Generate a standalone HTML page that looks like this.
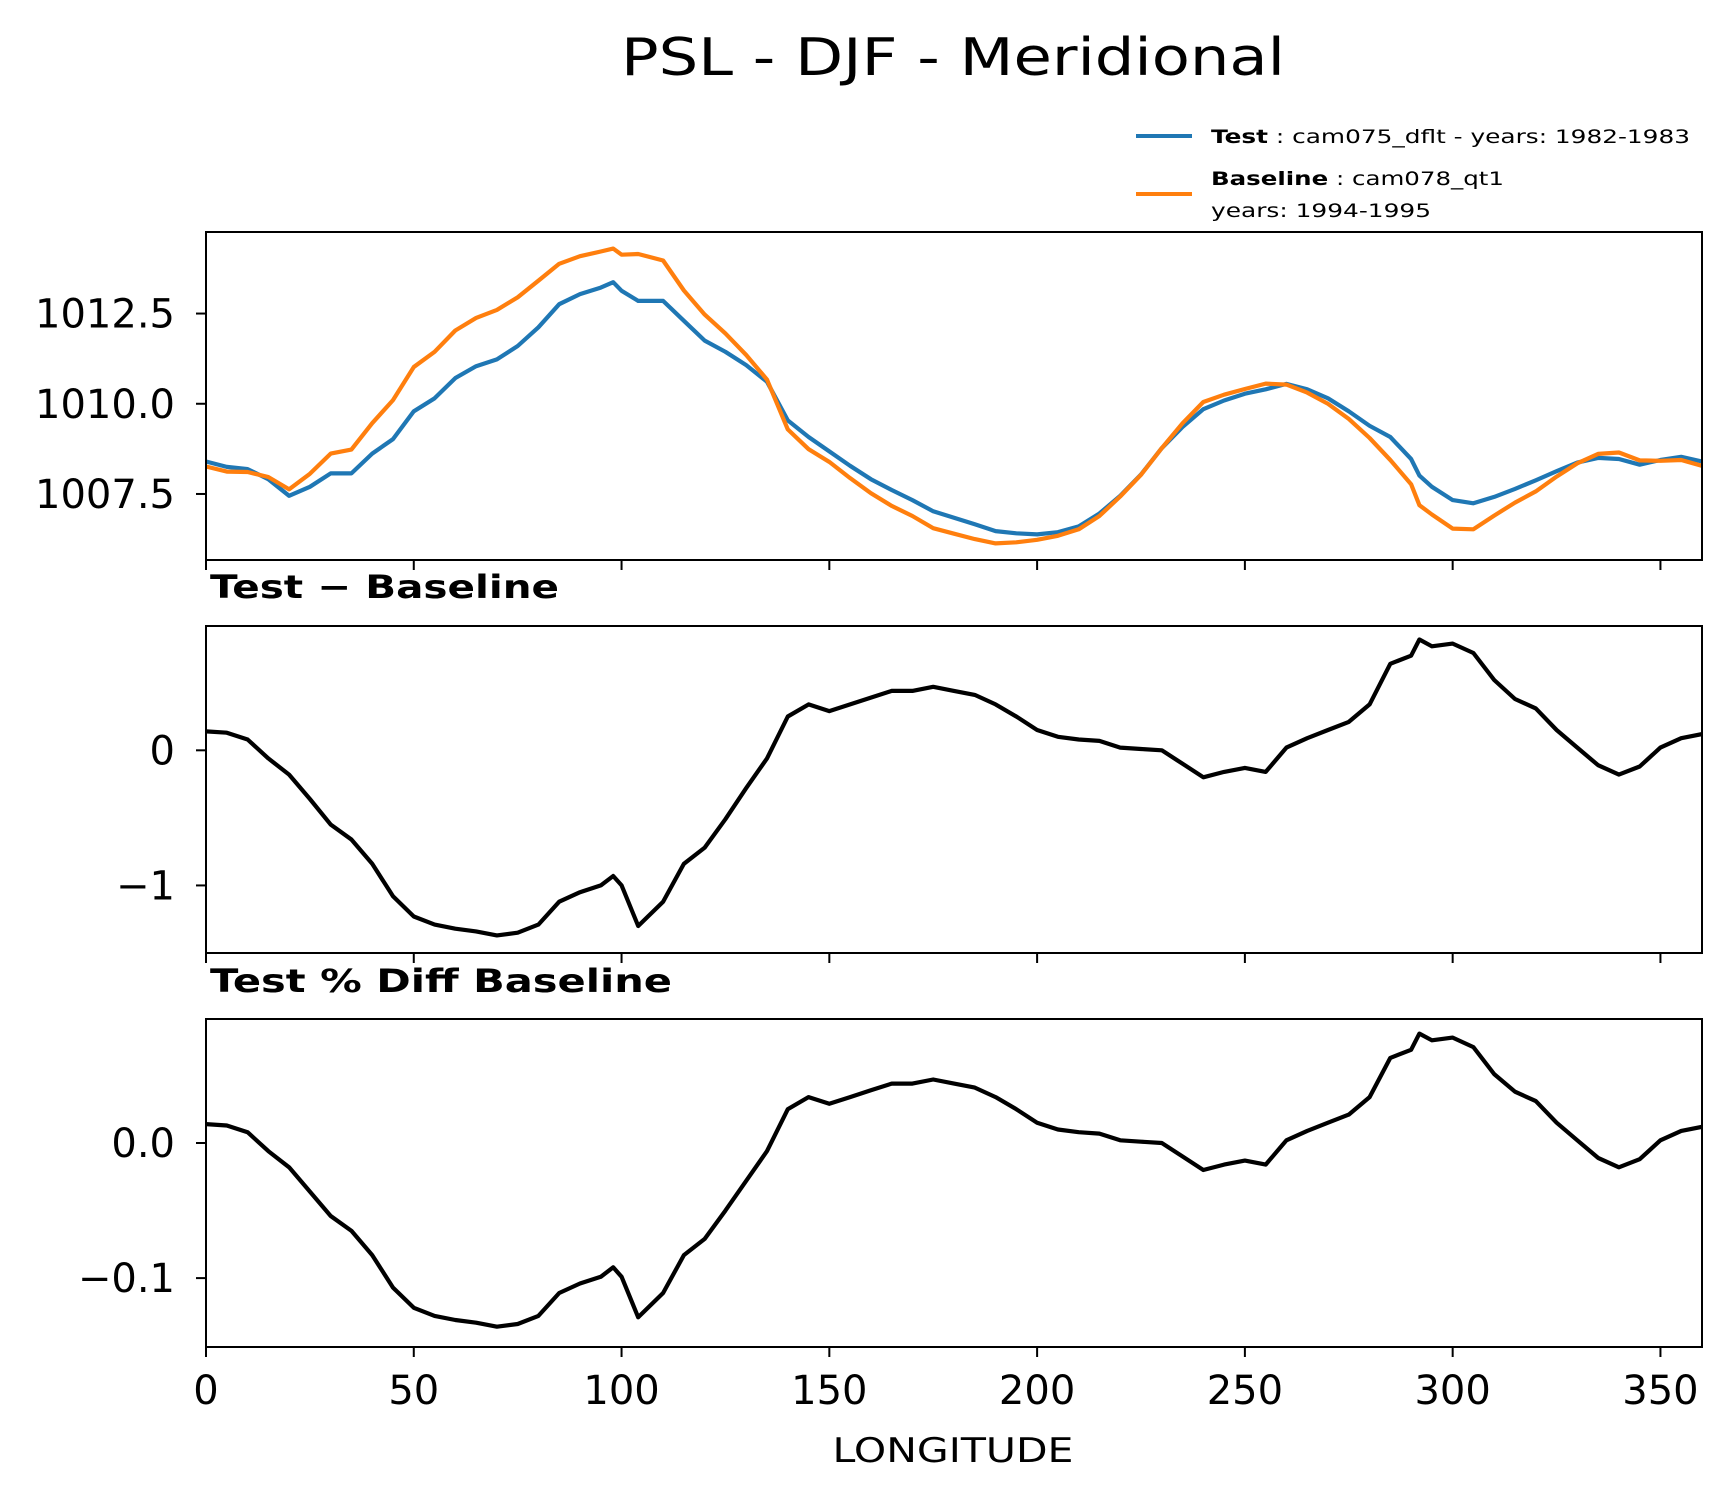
<!DOCTYPE html>
<html><head><meta charset="utf-8"><style>
html,body{margin:0;padding:0;background:#fff}
svg{display:block}
text{font-family:"DejaVu Sans","Liberation Sans",sans-serif;fill:#000}
</style></head><body>
<svg id="chart" width="1726" height="1496" viewBox="0 0 1726 1496" xmlns="http://www.w3.org/2000/svg">
<text x="953" y="75" font-size="52" text-anchor="middle" textLength="664" lengthAdjust="spacingAndGlyphs">PSL - DJF - Meridional</text>
<g>
<line x1="1136" y1="136" x2="1192" y2="136" stroke="#1f77b4" stroke-width="4"/>
<text x="1211" y="143" font-size="19" textLength="479" lengthAdjust="spacingAndGlyphs"><tspan font-weight="bold">Test</tspan> : cam075_dflt - years: 1982-1983</text>
<line x1="1136" y1="194" x2="1192" y2="194" stroke="#ff7f0e" stroke-width="4"/>
<text x="1211" y="185" font-size="19" textLength="293" lengthAdjust="spacingAndGlyphs"><tspan font-weight="bold">Baseline</tspan> : cam078_qt1</text>
<text x="1211" y="217" font-size="19" textLength="220" lengthAdjust="spacingAndGlyphs">years: 1994-1995</text>
</g>
<text x="210" y="598" font-size="32" font-weight="bold" textLength="349" lengthAdjust="spacingAndGlyphs">Test − Baseline</text>
<text x="210" y="992" font-size="32" font-weight="bold" textLength="462" lengthAdjust="spacingAndGlyphs">Test % Diff Baseline</text>
<text x="953" y="1462" font-size="34" text-anchor="middle" textLength="241" lengthAdjust="spacingAndGlyphs">LONGITUDE</text>
<g id="plots"></g>
</svg>
<script>
const lon = [0,5,10,15,20,25,30,35,40,45,50,55,60,65,70,75,80,85,90,95,98,100,104,110,115,120,125,130,135,140,145,150,155,160,165,170,175,180,185,190,195,200,205,210,215,220,225,230,235,240,245,250,255,260,265,270,275,280,285,290,292,295,300,305,310,315,320,325,330,335,340,345,350,355,360];
const testPSL = [1008.40,1008.25,1008.19,1007.91,1007.45,1007.70,1008.07,1008.07,1008.62,1009.02,1009.79,1010.15,1010.71,1011.04,1011.23,1011.60,1012.12,1012.76,1013.04,1013.22,1013.37,1013.13,1012.85,1012.85,1012.30,1011.75,1011.44,1011.07,1010.61,1009.54,1009.08,1008.68,1008.28,1007.91,1007.61,1007.33,1007.02,1006.84,1006.66,1006.47,1006.41,1006.38,1006.44,1006.60,1006.96,1007.45,1008.04,1008.77,1009.36,1009.85,1010.09,1010.28,1010.40,1010.55,1010.40,1010.15,1009.79,1009.39,1009.08,1008.47,1008.01,1007.70,1007.33,1007.24,1007.42,1007.64,1007.88,1008.13,1008.37,1008.50,1008.47,1008.31,1008.44,1008.53,1008.40];
const basePSL = [1008.26,1008.12,1008.11,1007.97,1007.63,1008.06,1008.62,1008.73,1009.46,1010.10,1011.02,1011.44,1012.03,1012.38,1012.60,1012.95,1013.41,1013.88,1014.09,1014.22,1014.30,1014.13,1014.15,1013.97,1013.14,1012.47,1011.95,1011.35,1010.67,1009.29,1008.74,1008.39,1007.94,1007.52,1007.17,1006.89,1006.55,1006.40,1006.25,1006.13,1006.16,1006.23,1006.34,1006.52,1006.89,1007.43,1008.03,1008.77,1009.46,1010.05,1010.25,1010.41,1010.56,1010.53,1010.31,1010.00,1009.58,1009.05,1008.44,1007.77,1007.19,1006.93,1006.54,1006.52,1006.90,1007.26,1007.57,1007.98,1008.35,1008.61,1008.65,1008.43,1008.42,1008.44,1008.28];
const diffVals = [0.14,0.13,0.08,-0.06,-0.18,-0.36,-0.55,-0.66,-0.84,-1.08,-1.23,-1.29,-1.32,-1.34,-1.37,-1.35,-1.29,-1.12,-1.05,-1.00,-0.93,-1.00,-1.30,-1.12,-0.84,-0.72,-0.51,-0.28,-0.06,0.25,0.34,0.29,0.34,0.39,0.44,0.44,0.47,0.44,0.41,0.34,0.25,0.15,0.10,0.08,0.07,0.02,0.01,0.00,-0.10,-0.20,-0.16,-0.13,-0.16,0.02,0.09,0.15,0.21,0.34,0.64,0.70,0.82,0.77,0.79,0.72,0.52,0.38,0.31,0.15,0.02,-0.11,-0.18,-0.12,0.02,0.09,0.12];
const pctVals = [0.014,0.013,0.008,-0.006,-0.018,-0.036,-0.054,-0.065,-0.083,-0.107,-0.122,-0.128,-0.131,-0.133,-0.136,-0.134,-0.128,-0.111,-0.104,-0.099,-0.092,-0.099,-0.129,-0.111,-0.083,-0.071,-0.050,-0.028,-0.006,0.025,0.034,0.029,0.034,0.039,0.044,0.044,0.047,0.044,0.041,0.034,0.025,0.015,0.010,0.008,0.007,0.002,0.001,0.000,-0.010,-0.020,-0.016,-0.013,-0.016,0.002,0.009,0.015,0.021,0.034,0.063,0.069,0.081,0.076,0.078,0.071,0.051,0.038,0.031,0.015,0.002,-0.011,-0.018,-0.012,0.002,0.009,0.012];
const xTicks = [0,50,100,150,200,250,300,350];
const pslTicks = [1007.5,1010.0,1012.5];
const pslTickLabels = ["1007.5","1010.0","1012.5"];
const diffTicks = [-1,0];
const diffTickLabels = ["\u22121","0"];
const pctTicks = [-0.1,0.0];
const pctTickLabels = ["\u22120.1","0.0"];

const NS = "http://www.w3.org/2000/svg";
const L = 206, R = 1702;
const xs = v => L + (v - 0) / 360 * (R - L);
const g = document.getElementById('plots');
function mk(tag, attrs, parent){
  const e = document.createElementNS(NS, tag);
  for (const k in attrs) e.setAttribute(k, attrs[k]);
  (parent||g).appendChild(e);
  return e;
}
function panel(name, top, bot, ymin, ymax, ticks, labels, series, xlabels){
  const ys = v => bot - (v - ymin) / (ymax - ymin) * (bot - top);
  const pg = mk('g', {});
  
  
  const clipId = name + '-clip';
  const cp = mk('clipPath', {id: clipId}, pg);
  mk('rect', {x: L, y: top, width: R - L, height: bot - top}, cp);
  series.forEach(s => {
    const d = lon.map((v, i) => (i ? 'L' : 'M') + xs(v).toFixed(1) + ',' + ys(s.vals[i]).toFixed(1)).join(' ');
    const p = mk('path', {d: d, fill: 'none', stroke: s.color, 'stroke-width': 4.2, 'stroke-linejoin': 'round', 'clip-path': 'url(#' + clipId + ')'}, pg);
    
    
  });
  const frame = mk('rect', {x: L, y: top, width: R - L, height: bot - top, fill: 'none', stroke: '#000', 'stroke-width': 2}, pg);
  
  
  ticks.forEach((t, i) => {
    const y = ys(t);
    const tk = mk('line', {x1: L - 10, y1: y, x2: L, y2: y, stroke: '#000', 'stroke-width': 2}, pg);
    
    
    const tx = mk('text', {x: 175, y: y + 14, 'font-size': 40, 'text-anchor': 'end'}, pg);
    
    
    tx.textContent = labels[i];
  });
  xTicks.forEach(t => {
    const x = xs(t);
    const tk = mk('line', {x1: x, y1: bot, x2: x, y2: bot + 10, stroke: '#000', 'stroke-width': 2}, pg);
    
    
    if (xlabels){
      const tx = mk('text', {x: x, y: bot + 57, 'font-size': 40, 'text-anchor': 'middle'}, pg);
      
      
      tx.textContent = String(t);
    }
  });
}
panel('psl', 232, 560, 1005.67, 1014.76, pslTicks, pslTickLabels,
  [{vals: testPSL, color: '#1f77b4', name: 'test-psl-line'}, {vals: basePSL, color: '#ff7f0e', name: 'baseline-psl-line'}], false);
panel('diff', 626, 953, -1.50, 0.92, diffTicks, diffTickLabels,
  [{vals: diffVals, color: '#000', name: 'diff-line'}], false);
panel('pctdiff', 1019, 1347, -0.151, 0.0918, pctTicks, pctTickLabels,
  [{vals: pctVals, color: '#000', name: 'pctdiff-line'}], true);
</script>
</body></html>
